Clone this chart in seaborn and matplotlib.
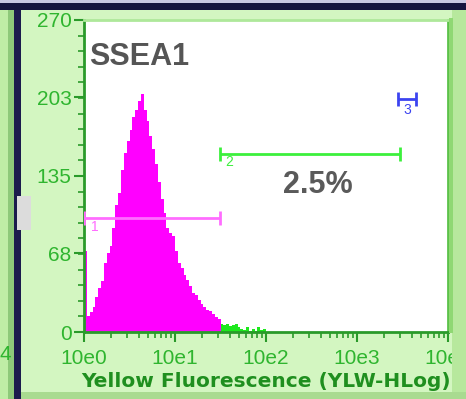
import matplotlib
matplotlib.use("Agg")
import matplotlib.pyplot as plt
import matplotlib.ticker as mticker
from matplotlib.patches import Rectangle
import numpy as np
import pandas as pd
import seaborn as sns

# histogram channels, 32 per decade, counts
bins_per_decade = 32
gated_counts = [70, 14, 17, 22, 30, 38, 44, 60, 68, 74, 90, 110, 120, 140, 155, 165,
                175, 186, 192, 200, 206, 192, 183, 170, 158, 145, 130, 115, 103, 90, 86, 83,
                70, 60, 55, 49, 45, 40, 34, 32, 28, 24, 22, 19, 18, 16, 13, 11]
positive_counts = [7, 6, 7, 5, 6, 7, 4, 3, 2, 4, 1, 3, 1, 4, 2, 3]

# gates: (name, low, high, y level, colour)
gate_names = ["1", "2", "3"]
gate_low = [1.0, 31.0, 2820.0]
gate_high = [31.0, 2950.0, 4470.0]
gate_level = [99, 154, 202]
gate_colors = ["#ff6cff", "#3cf03c", "#3c44f0"]
gate_label_x = [1.32, 39.0, 3550.0]
gate_label_y = [91, 147, 192]

y_ticks = [0, 68, 135, 203, 270]
x_ticks = [1, 10, 100, 1000, 10000]
x_tick_labels = ["10e0", "10e1", "10e2", "10e3", "10e4"]

title_text = "SSEA1"
percent_text = "2.5%"
x_label = "Yellow Fluorescence (YLW-HLog)"

sns.set_style("white")
plt.rcParams["font.family"] = ["Liberation Sans", "DejaVu Sans"]

W, H = 466, 399
fig = plt.figure(figsize=(W / 100, H / 100), dpi=100)
fig.patch.set_facecolor("#d3f6c1")


def px_rect(x0, y0, x1, y1, color, z=0):
    fig.patches.append(Rectangle((x0 / W, 1 - y1 / H), (x1 - x0) / W, (y1 - y0) / H,
                                 transform=fig.transFigure, facecolor=color,
                                 edgecolor="none", zorder=z))


# window frame
px_rect(0, 0, 14, H, "#bfeda6")
px_rect(8, 0, 14, H, "#8ec97a")
px_rect(14, 0, 21, H, "#1b1b4d")
px_rect(0, 0, W, 3, "#c9c9e2")
px_rect(0, 3, W, 10, "#16163f")
px_rect(21, 392, W, H, "#a9db90")
px_rect(452, 10, W, 392, "#b7e89d")
px_rect(449, 18, 453, 333, "#8fd873")
px_rect(17, 196, 31, 230, "#dcdcdc")

ax = fig.add_axes([84 / W, 1 - 332 / H, 364 / W, 312 / H])
ax.set_facecolor("white")

edges_all = np.arange(len(gated_counts) + len(positive_counts) + 1) / bins_per_decade
edges_gated = edges_all[:len(gated_counts) + 1]
edges_pos = edges_all[len(gated_counts):]
df_gated = pd.DataFrame({"fl": 10 ** ((edges_gated[:-1] + edges_gated[1:]) / 2),
                         "count": gated_counts})
df_pos = pd.DataFrame({"fl": 10 ** ((edges_pos[:-1] + edges_pos[1:]) / 2),
                       "count": positive_counts})

sns.histplot(data=df_gated, x="fl", weights="count", bins=edges_gated.tolist(),
             log_scale=True, element="step", fill=True, color="#ff00ff", alpha=1,
             linewidth=0, ax=ax)
sns.histplot(data=df_pos, x="fl", weights="count", bins=edges_pos.tolist(),
             log_scale=True, element="step", fill=True, color="#1ee81e", alpha=1,
             linewidth=0, ax=ax)

for name, lo, hi, lvl, col, lx, ly in zip(gate_names, gate_low, gate_high, gate_level,
                                          gate_colors, gate_label_x, gate_label_y):
    ax.plot([lo, hi], [lvl, lvl], color=col, lw=2, solid_capstyle="butt", zorder=5)
    ax.plot([lo, hi], [lvl, lvl], ls="none", marker="|", ms=10, mew=2, color=col, zorder=5)
    ax.text(lx, ly, name, color=col, fontsize=10, ha="center", va="center", zorder=6)

ax.set_xscale("log")
ax.set_xlim(1, 10000)
ax.set_ylim(0, 270)
ax.set_xticks(x_ticks, x_tick_labels)
ax.xaxis.set_minor_locator(mticker.LogLocator(base=10, subs=np.arange(2, 10), numticks=20))
ax.xaxis.set_minor_formatter(mticker.NullFormatter())
ax.set_yticks(y_ticks)
ax.yaxis.set_minor_locator(mticker.MultipleLocator(13.5))
ax.set_ylabel("")
ax.set_xlabel(x_label, color="#1f8f1f", fontsize=14.5, fontweight="bold", labelpad=3,
              family=["DejaVu Sans"])

tick_green = "#2fb52f"
ax.tick_params(axis="both", which="major", length=7, width=1.5, color="#2a9a2a",
               labelcolor=tick_green, labelsize=15, direction="out", pad=2)
ax.tick_params(axis="both", which="minor", length=4, width=1.2, color="#2a9a2a",
               direction="out")
ax.tick_params(axis="x", which="major", pad=5)
ax.tick_params(bottom=True, left=True, which="both")

for side in ["left", "bottom"]:
    ax.spines[side].set_color("#2a9a2a")
    ax.spines[side].set_linewidth(2)
ax.spines["top"].set_color("#aee89a")
ax.spines["top"].set_linewidth(2)
ax.spines["right"].set_color("#5cc24a")
ax.spines["right"].set_linewidth(2)

ax.text(0.015, 0.88, title_text, transform=ax.transAxes, fontsize=22, fontweight="bold",
        color="#555555", ha="left", va="center")
ax.text(0.643, 0.47, percent_text, transform=ax.transAxes, fontsize=22, fontweight="bold",
        color="#5a5a5a", ha="center", va="center")

fig.text(5 / W, 1 - 355 / H, "4", color=tick_green, fontsize=15, ha="center", va="center")

fig.savefig("out.png", dpi=100)
